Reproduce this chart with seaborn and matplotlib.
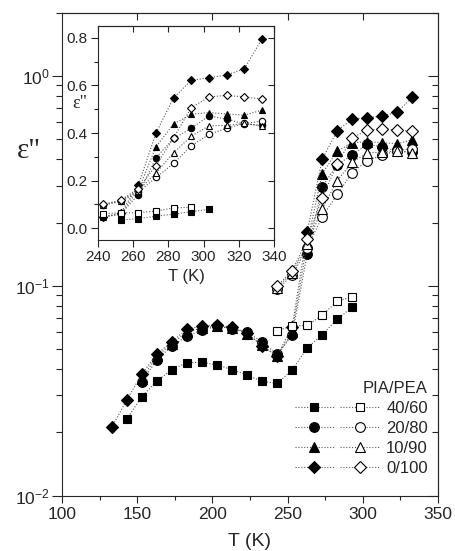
import numpy as np
import matplotlib
matplotlib.use("Agg")
import matplotlib.pyplot as plt
import seaborn as sns
from matplotlib.lines import Line2D
from matplotlib.legend_handler import HandlerTuple
from matplotlib.ticker import (LogLocator, MultipleLocator, NullFormatter,
                               NullLocator, FormatStrFormatter, FixedLocator)

# ---------------------------------------------------------------- data
# PIA/PEA blends, dielectric loss eps'' versus temperature T (K)
blends = ["40/60", "20/80", "10/90", "0/100"]
markers = {"40/60": "s", "20/80": "o", "10/90": "^", "0/100": "D"}

# filled symbols
t_4060 = [143, 153, 163, 173, 183, 193, 203, 213, 223, 233, 243, 253, 263, 273, 283, 293]
eps_4060 = [0.0231, 0.0296, 0.0351, 0.0398, 0.0430, 0.0431, 0.0419, 0.0398,
            0.0375, 0.0350, 0.0342, 0.0396, 0.0505, 0.0584, 0.0693, 0.0789]

t_2080 = [153, 163, 173, 183, 193, 203, 213, 223, 233, 243, 253, 263, 273, 283,
          293, 303, 313, 323, 333]
eps_2080 = [0.0348, 0.0443, 0.0516, 0.0575, 0.0615, 0.0640, 0.0625, 0.0600,
            0.0540, 0.0470, 0.0580, 0.141, 0.296, 0.377, 0.420, 0.472, 0.458,
            0.438, 0.432]

t_1090 = [153, 163, 173, 183, 193, 203, 213, 223, 233, 243, 253, 263, 273, 283,
          293, 303, 313, 323, 333]
eps_1090 = [0.0360, 0.0460, 0.0530, 0.0600, 0.0630, 0.0640, 0.0630, 0.0590,
            0.0520, 0.0460, 0.0600, 0.160, 0.342, 0.438, 0.479, 0.486, 0.480,
            0.475, 0.496]

t_0100 = [133, 143, 153, 163, 173, 183, 193, 203, 213, 223, 233, 243, 253, 263,
          273, 283, 293, 303, 313, 323, 333]
eps_0100 = [0.0211, 0.0285, 0.0378, 0.0471, 0.0541, 0.0619, 0.0643, 0.0650,
            0.0633, 0.0597, 0.0516, 0.0463, 0.0635, 0.180, 0.400, 0.548, 0.622,
            0.632, 0.644, 0.670, 0.795]

# open symbols
t_4060_o = [243, 253, 263, 273, 283, 293]
eps_4060_o = [0.0610, 0.0644, 0.0646, 0.0723, 0.0843, 0.0886]

t_2080_o = [243, 253, 263, 273, 283, 293, 303, 313, 323, 333]
eps_2080_o = [0.096, 0.112, 0.151, 0.213, 0.272, 0.346, 0.394, 0.420, 0.440, 0.450]

t_1090_o = [243, 253, 263, 273, 283, 293, 303, 313, 323, 333]
eps_1090_o = [0.098, 0.115, 0.158, 0.232, 0.317, 0.387, 0.430, 0.432, 0.440, 0.430]

t_0100_o = [243, 253, 263, 273, 283, 293, 303, 313, 323, 333]
eps_0100_o = [0.0997, 0.1175, 0.166, 0.263, 0.380, 0.507, 0.551, 0.559, 0.551, 0.544]

# inset: the 40/60 filled run as plotted on the linear panel
t_4060_inset = [253, 263, 273, 283, 293, 303]
eps_4060_inset = [0.0342, 0.0396, 0.0505, 0.0584, 0.0693, 0.0789]

filled = {"40/60": (t_4060, eps_4060), "20/80": (t_2080, eps_2080),
          "10/90": (t_1090, eps_1090), "0/100": (t_0100, eps_0100)}
hollow = {"40/60": (t_4060_o, eps_4060_o), "20/80": (t_2080_o, eps_2080_o),
          "10/90": (t_1090_o, eps_1090_o), "0/100": (t_0100_o, eps_0100_o)}
filled_inset = dict(filled)
filled_inset["40/60"] = (t_4060_inset, eps_4060_inset)

# ---------------------------------------------------------------- style
sns.set_style("ticks")
plt.rcParams["font.family"] = ["Liberation Sans", "DejaVu Sans"]
plt.rcParams["mathtext.fontset"] = "custom"
plt.rcParams["mathtext.rm"] = "Liberation Sans"
plt.rcParams["mathtext.it"] = "Liberation Sans:italic"
plt.rcParams["mathtext.bf"] = "Liberation Sans:bold"
plt.rcParams["axes.linewidth"] = 0.8

LINE_GREY = "0.35"
DOTS = (0, (1, 1.6))
main_ms = {"s": 6.0, "o": 7.0, "^": 7.5, "D": 6.0}
inset_ms = {"s": 4.0, "o": 4.6, "^": 5.0, "D": 4.0}


def draw_series(ax, t, eps, marker, solid, ms):
    sns.lineplot(x=t, y=eps, ax=ax, estimator=None, sort=False,
                 color=LINE_GREY, linestyle=DOTS, linewidth=0.8,
                 marker=marker, markersize=ms,
                 markerfacecolor="black" if solid else "white",
                 markeredgecolor="black", markeredgewidth=0.8, legend=False)


fig = plt.figure(figsize=(4.55, 5.51), dpi=100)

# ---------------------------------------------------------------- main panel
ax = fig.add_axes([0.1363, 0.1007, 0.8263, 0.8763])
ax.set_yscale("log")
ax.set_xlim(100, 350)
ax.set_ylim(0.01, 2.0)

for b in blends:
    t, e = filled[b]
    draw_series(ax, t, e, markers[b], True, main_ms[markers[b]])
for b in blends:
    t, e = hollow[b]
    draw_series(ax, t, e, markers[b], False, main_ms[markers[b]])

ax.xaxis.set_major_locator(MultipleLocator(50))
ax.xaxis.set_minor_locator(MultipleLocator(25))
ax.yaxis.set_major_locator(LogLocator(base=10))
ax.yaxis.set_minor_locator(LogLocator(base=10, subs=np.arange(2, 10)))
ax.yaxis.set_minor_formatter(NullFormatter())
ax.tick_params(axis="x", which="major", direction="out", length=5, width=0.8,
               labelsize=12.5, pad=3)
ax.tick_params(axis="x", which="minor", direction="out", length=3, width=0.8)
ax.tick_params(axis="y", which="major", direction="out", length=7, width=0.8,
               labelsize=12.5, pad=2)
ax.tick_params(axis="y", which="minor", direction="out", length=4, width=0.8)

top = ax.secondary_xaxis("top")
top.xaxis.set_major_locator(FixedLocator([150, 200, 250, 300]))
top.xaxis.set_minor_locator(NullLocator())
top.tick_params(direction="in", length=5, width=0.8, labeltop=False)

right = ax.secondary_yaxis("right")
right.yaxis.set_major_locator(LogLocator(base=10))
right.yaxis.set_minor_locator(LogLocator(base=10, subs=np.arange(2, 10)))
right.yaxis.set_minor_formatter(NullFormatter())
right.tick_params(which="major", direction="in", length=7, width=0.8, labelright=False)
right.tick_params(which="minor", direction="in", length=4, width=0.8, labelright=False)

ax.set_xlabel("T (K)", fontsize=14, labelpad=8)
ax.set_ylabel('ε"', fontsize=21, rotation=0, family="Liberation Serif",
              ha="center", va="center")
ax.yaxis.set_label_coords(-0.088, 0.713)

handles = []
for b in blends:
    m = markers[b]
    h_full = Line2D([], [], color=LINE_GREY, linestyle=DOTS, linewidth=0.8,
                    marker=m, markersize=main_ms[m], markerfacecolor="black",
                    markeredgecolor="black", markeredgewidth=0.8)
    h_open = Line2D([], [], color=LINE_GREY, linestyle=DOTS, linewidth=0.8,
                    marker=m, markersize=main_ms[m], markerfacecolor="white",
                    markeredgecolor="black", markeredgewidth=0.8)
    handles.append((h_full, h_open))

ax.legend(handles, blends, title="PIA/PEA", loc="lower right",
          bbox_to_anchor=(1.0, 0.02), frameon=False, fontsize=12,
          title_fontsize=12, alignment="right", handlelength=5.1,
          handletextpad=0.4, labelspacing=0.3, borderaxespad=0.2,
          handler_map={tuple: HandlerTuple(ndivide=None, pad=0.35)})

# ---------------------------------------------------------------- inset
ins = fig.add_axes([0.2147, 0.5644, 0.3881, 0.3884])
ins.set_xlim(240, 340)
ins.set_ylim(-0.05, 0.85)

for b in blends:
    t, e = filled_inset[b]
    draw_series(ins, t, e, markers[b], True, inset_ms[markers[b]])
for b in blends:
    t, e = hollow[b]
    draw_series(ins, t, e, markers[b], False, inset_ms[markers[b]])

ins.xaxis.set_major_locator(MultipleLocator(20))
ins.yaxis.set_major_locator(MultipleLocator(0.2))
ins.yaxis.set_minor_locator(MultipleLocator(0.1))
ins.yaxis.set_major_formatter(FormatStrFormatter("%.1f"))
ins.tick_params(axis="both", which="major", direction="out", length=5, width=0.8,
                labelsize=11, pad=2)
ins.tick_params(axis="y", which="minor", direction="out", length=3, width=0.8)

itop = ins.secondary_xaxis("top")
itop.xaxis.set_major_locator(MultipleLocator(20))
itop.tick_params(direction="in", length=4, width=0.8, labeltop=False)
iright = ins.secondary_yaxis("right")
iright.yaxis.set_major_locator(MultipleLocator(0.2))
iright.tick_params(direction="in", length=4, width=0.8, labelright=False)

ins.set_xlabel("T (K)", fontsize=12, labelpad=4)
ins.set_ylabel('ε"', fontsize=13, rotation=0, family="Liberation Serif",
               ha="center", va="center")
ins.yaxis.set_label_coords(-0.10, 0.64)

fig.savefig("out.png", dpi=100)
